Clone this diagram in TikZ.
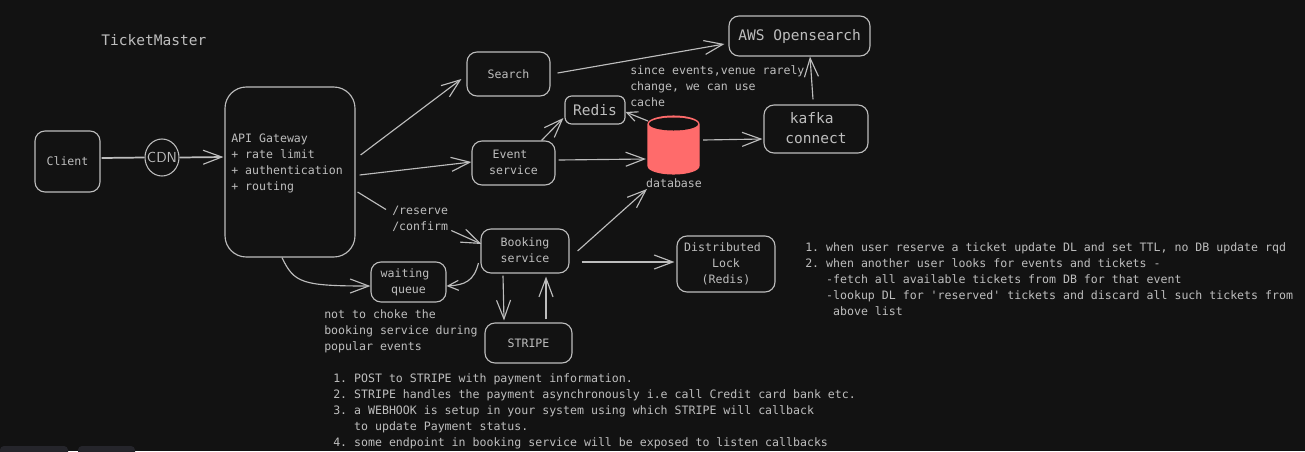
\documentclass[tikz,border=0pt]{standalone}
\usepackage{fontspec}
\setmonofont{DejaVu Sans Mono}
\usetikzlibrary{arrows.meta,calc,shapes.geometric}
\definecolor{bgc}{HTML}{121212}
\definecolor{ink}{HTML}{BEBEBE}
\definecolor{linec}{HTML}{BDBDBD}
\definecolor{dbred}{HTML}{FF6B6B}
\definecolor{tabc}{HTML}{25252B}
\tikzset{
  x=0.75pt,y=-0.75pt,
  sm/.style={text=ink,inner sep=0pt,align=left,anchor=north west,font=\ttfamily\fontsize{8.68}{12}\selectfont},
  smc/.style={text=ink,inner sep=0pt,align=center,font=\ttfamily\fontsize{8.68}{12}\selectfont},
  lg/.style={text=ink,inner sep=0pt,align=center,font=\ttfamily\fontsize{10.9}{15}\selectfont},
  box/.style={draw=linec,line width=0.85pt,rounded corners=7.5pt,inner sep=0pt},
  con/.style={draw=linec,line width=0.85pt,-{Straight Barb[length=14pt,width=10.5pt,line width=0.85pt]}},
  cons/.style={draw=linec,line width=0.85pt,-{Straight Barb[length=8pt,width=7.5pt,line width=0.85pt]}},
  plain/.style={draw=linec,line width=0.85pt},
}
\begin{document}
\begin{tikzpicture}
\path[use as bounding box,fill=bgc] (0,0) rectangle (1305,451);
% bottom artefacts
\fill[tabc,rounded corners=3pt] (0,446) -- (68,446) -- (68,456) -- (0,456) -- cycle;
\fill[tabc,rounded corners=3pt] (78,446) -- (135,446) -- (135,456) -- (78,456) -- cycle;

\node[lg,anchor=west] (title) at (101,40) {TicketMaster};

\node[box,minimum width=48.75pt,minimum height=45.75pt] (client) at (67.5,161.5) {};
\node[smc] at (client.center) {Client};
\node[draw=linec,line width=0.8pt,ellipse,minimum width=25.5pt,minimum height=27.75pt,inner sep=0pt] (cdn) at (162,157.5) {};
\node[text=ink,inner sep=0pt,font=\sffamily\fontsize{10.9}{13}\selectfont] at (cdn.center) {CDN};

\node[box,rounded corners=16pt,minimum width=97.5pt,minimum height=127.5pt] (api) at (290,172) {};
\node[sm] (apitext) at (231,134) {API Gateway\\+ rate limit\\+ authentication\\+ routing};

\node[box,minimum width=62.25pt,minimum height=33pt] (search) at (508.5,74) {};
\node[smc] at (search.center) {Search};
\node[box,minimum width=105.75pt,minimum height=30pt] (aws) at (799.5,36) {};
\node[lg] at (aws.center) {AWS Opensearch};
\node[box,rounded corners=5pt,minimum width=45pt,minimum height=21pt] (redis) at (595,110) {};
\node[lg] at (redis.center) {Redis};
\node[box,minimum width=62.25pt,minimum height=33pt] (event) at (513.5,163) {};
\node[smc] at ([yshift=0.75pt]event.center) {Event\phantom{.}\\service};
\node[box,minimum width=78pt,minimum height=36pt] (kafka) at (816,129) {};
\node[lg] at ([yshift=0.75pt]kafka.center) {kafka\phantom{.}\\connect};
\node[box,minimum width=66pt,minimum height=33pt] (booking) at (525,251) {};
\node[smc] at ([yshift=0.75pt]booking.center) {Booking\\service};
\node[box,minimum width=56.25pt,minimum height=30pt] (waiting) at (408.5,282) {};
\node[smc] at (waiting.center) {waiting\phantom{.}\\queue};
\node[box,minimum width=73.5pt,minimum height=42pt] (dlock) at (726,264) {};
\node[smc] at (dlock.center) {Distributed\phantom{.}\\Lock\\(Redis)};
\node[box,minimum width=65.25pt,minimum height=30pt] (stripe) at (528.5,343) {};
\node[smc] at (stripe.center) {STRIPE};

% database
\coordinate (db) at (673.5,145);
\fill[dbred,draw=dbred,line width=0.8pt] (648,124) -- (648,166) arc[start angle=180,end angle=0,x radius=25.5,y radius=8] -- (699,124) arc[start angle=0,end angle=-180,x radius=25.5,y radius=8] -- cycle;
\fill[bgc] (673.5,124) ellipse[x radius=24.5,y radius=6.5];
\node[smc] (dblabel) at (674,183) {database};

% labels
\node[sm] (since) at (630,65) {since events,venue rarely\\change, we can use\\cache};
\node[sm] (resv) at (392,205.5) {/reserve\\/confirm};
\node[sm] (choke) at (324,309.5) {not to choke the\\booking service during\\popular events};
\node[sm] (steps) at (333,373.5) {1. POST to STRIPE with payment information.\\
2. STRIPE handles the payment asynchronously i.e call Credit card bank etc.\\
3. a WEBHOOK is setup in your system using which STRIPE will callback\\
\phantom{3. }to update Payment status.\\
4. some endpoint in booking service will be exposed to listen callbacks};
\node[sm] (dlnote) at (805,242.5) {1. when user reserve a ticket update DL and set TTL, no DB update rqd\\
2. when another user looks for events and tickets -\\
\phantom{2. }-fetch all available tickets from DB for that event\\
\phantom{2. }-lookup DL for 'reserved' tickets and discard all such tickets from\\
\phantom{2. -}above list};

% connectors
\draw[plain,line width=1.3pt] ([shift={(1,-3.5)}]client.east) -- (cdn.west);
\draw[con,line width=1.3pt] (cdn.east) -- ([shift={(-1,-15)}]api.west);
\draw[con] ([shift={(5,-17)}]api.east) -- ([shift={(-5,5)}]search.west);
\draw[con] ([shift={(4,3)}]api.east) -- ([shift={(0,-1)}]event.west);
\draw[plain] ([shift={(2,20)}]api.east) -- ([shift={(-6,-9)}]resv.west);
\draw[con] ([shift={(3,12)}]resv.east) -- ([shift={(1,-7)}]booking.west);
\draw[con] ([shift={(-8,0)}]api.south) .. controls (294,283) and (302,286) .. ([shift={(0,4)}]waiting.west);
\draw[con] ([shift={(7,-1)}]search.east) -- ([shift={(-4,8)}]aws.west);
\draw[con] ([shift={(-14,0)}]event.north east) -- ([shift={(-1,8)}]redis.west);
\draw[cons] ([shift={(-25.5,-24)}]db) -- ([shift={(0,2)}]redis.east);
\draw[con] ([shift={(3,-3)}]event.east) -- ([shift={(-27.5,14)}]db);
\draw[con] ([shift={(29.5,-5)}]db) -- ([shift={(-1,10)}]kafka.west);
\draw[con] ([shift={(-3,-5)}]kafka.north) -- ([shift={(10.5,0)}]aws.south);
\draw[con] ([shift={(8,0)}]booking.east) -- ([shift={(-26.5,44)}]db);
\draw[con] ([shift={(12,11)}]booking.east) -- ([shift={(-2,-2)}]dlock.west);
\draw[cons] ([shift={(-2,12)}]booking.west) .. controls (474,281) and (465,285) .. ([shift={(0,4)}]waiting.east);
\draw[con] ([shift={(-22,2)}]booking.south) -- ([shift={(-24.5,-2)}]stripe.north);
\draw[con] ([shift={(17.5,-3)}]stripe.north) -- ([shift={(21,3)}]booking.south);
\end{tikzpicture}
\end{document}
